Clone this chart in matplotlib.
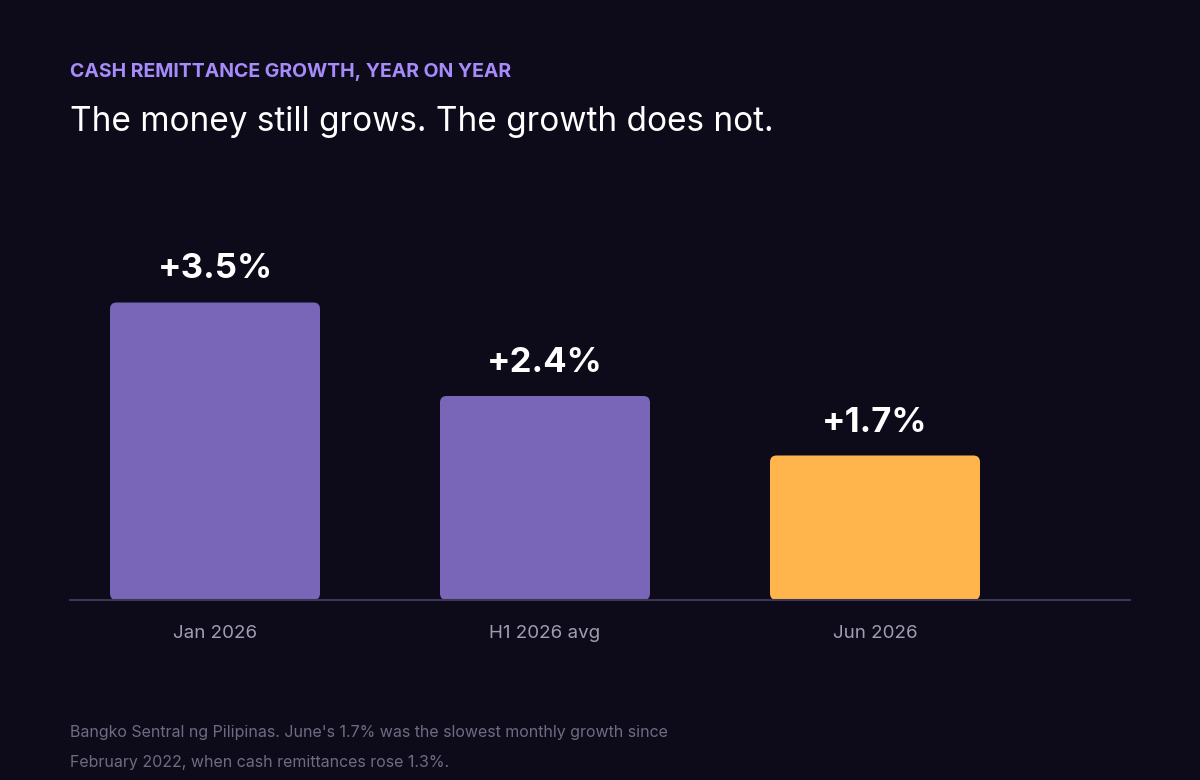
import matplotlib.pyplot as plt
from matplotlib.patches import FancyBboxPatch

plt.rcParams['font.family'] = ['Inter', 'DejaVu Sans']

categories = ["Jan 2026", "H1 2026 avg", "Jun 2026"]
growth = [3.5, 2.4, 1.7]
labels = ["+3.5%", "+2.4%", "+1.7%"]
colors = ["#7a66b8", "#7a66b8", "#ffb54c"]

bg = "#0d0b1a"
fig = plt.figure(figsize=(12, 7.8), dpi=100, facecolor=bg)
ax = fig.add_axes([70 / 1200, 180 / 780, 1060 / 1200, 400 / 780])
ax.set_facecolor(bg)

width = 210 / 330
for i, (v, c) in enumerate(zip(growth, colors)):
    p = FancyBboxPatch((i - width / 2, 0), width, v,
                       boxstyle="round,pad=0,rounding_size=0.02",
                       mutation_aspect=330 / 85, fc=c, ec="none")
    ax.add_patch(p)
    ax.text(i, v + 0.2, labels[i], ha="center", va="bottom",
            color="white", fontsize=25, fontweight="bold")

ax.set_xlim((70 - 215) / 330, (1130 - 215) / 330)
ax.set_ylim(0, 400 / 85)
ax.set_xticks(range(len(categories)))
ax.set_xticklabels(categories, color="#a19db3", fontsize=13.5)
ax.tick_params(axis="x", length=0, pad=18)
ax.set_yticks([])
for s in ["top", "right", "left"]:
    ax.spines[s].set_visible(False)
ax.spines["bottom"].set_color("#3b3752")
ax.spines["bottom"].set_linewidth(1.5)

fig.text(70 / 1200, 1 - 72 / 780, "CASH REMITTANCE GROWTH, YEAR ON YEAR",
         color="#a78bfa", fontsize=14, fontweight="bold", va="center")
fig.text(70 / 1200, 1 - 122 / 780, "The money still grows. The growth does not.",
         color="white", fontsize=24, va="center")
fig.text(70 / 1200, 1 - 733 / 780,
         "Bangko Sentral ng Pilipinas. June's 1.7% was the slowest monthly growth since",
         color="#6f6b82", fontsize=11.5, va="center")
fig.text(70 / 1200, 1 - 762 / 780,
         "February 2022, when cash remittances rose 1.3%.",
         color="#6f6b82", fontsize=11.5, va="center")

fig.savefig("out.png", facecolor=bg)
